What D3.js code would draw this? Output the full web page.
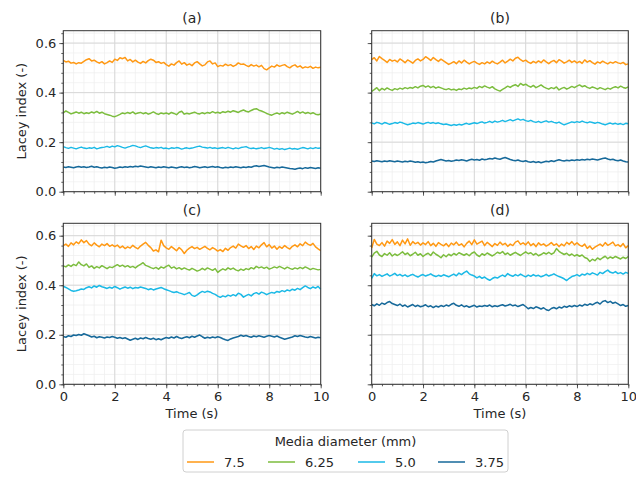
<!DOCTYPE html>
<html><head><meta charset="utf-8">
<script src="https://cdn.jsdelivr.net/npm/d3@7"></script>
<style>
body{margin:0;background:#fff;}
svg{font-family:"DejaVu Sans",sans-serif;}
</style></head><body>
<svg id="c" width="636" height="477"></svg>
<script>
const panelTitles = ["(a)","(b)","(c)","(d)"];
const seriesLabels = ["7.5","6.25","5.0","3.75"];
const seriesColors = ["#ff9914","#7cbd3e","#1ab9e6","#16699a"];
const xTicks = [0,2,4,6,8,10];
const yTicks = [0.0,0.2,0.4,0.6];
const times = d3.range(0,101).map(i=>i/10);

const a_75 = [0.530,0.524,0.527,0.519,0.522,0.516,0.521,0.519,0.526,0.533,0.537,0.528,0.531,0.524,0.519,0.525,0.516,0.521,0.528,0.522,0.535,0.530,0.541,0.537,0.542,0.528,0.534,0.524,0.531,0.523,0.518,0.526,0.520,0.529,0.535,0.531,0.522,0.525,0.518,0.522,0.513,0.507,0.516,0.511,0.521,0.528,0.515,0.521,0.511,0.516,0.509,0.520,0.525,0.516,0.508,0.512,0.524,0.528,0.516,0.520,0.505,0.510,0.507,0.515,0.509,0.513,0.506,0.511,0.520,0.514,0.516,0.510,0.505,0.513,0.507,0.511,0.504,0.510,0.497,0.492,0.500,0.507,0.503,0.512,0.506,0.510,0.513,0.505,0.500,0.508,0.512,0.503,0.508,0.499,0.504,0.501,0.506,0.498,0.503,0.500,0.502];
const a_625 = [0.318,0.326,0.320,0.314,0.318,0.322,0.317,0.321,0.315,0.319,0.316,0.322,0.318,0.324,0.317,0.321,0.315,0.312,0.309,0.305,0.303,0.307,0.312,0.318,0.315,0.320,0.316,0.322,0.314,0.318,0.320,0.315,0.319,0.313,0.317,0.322,0.316,0.312,0.318,0.315,0.318,0.313,0.320,0.316,0.311,0.321,0.325,0.313,0.317,0.314,0.318,0.321,0.316,0.314,0.319,0.315,0.320,0.317,0.323,0.318,0.321,0.317,0.323,0.320,0.325,0.321,0.327,0.324,0.320,0.326,0.330,0.325,0.322,0.328,0.333,0.335,0.329,0.326,0.321,0.316,0.312,0.309,0.314,0.318,0.313,0.319,0.315,0.321,0.317,0.313,0.318,0.324,0.317,0.322,0.316,0.320,0.315,0.319,0.313,0.311,0.314];
const a_50 = [0.182,0.178,0.175,0.179,0.176,0.173,0.177,0.180,0.176,0.174,0.177,0.175,0.179,0.173,0.176,0.178,0.180,0.183,0.179,0.184,0.181,0.186,0.183,0.179,0.176,0.180,0.183,0.187,0.185,0.181,0.178,0.182,0.185,0.181,0.177,0.175,0.178,0.176,0.179,0.174,0.176,0.173,0.177,0.175,0.178,0.176,0.172,0.175,0.177,0.174,0.176,0.179,0.182,0.184,0.180,0.178,0.176,0.179,0.175,0.177,0.174,0.176,0.178,0.175,0.179,0.176,0.173,0.177,0.174,0.178,0.180,0.182,0.177,0.174,0.176,0.173,0.175,0.178,0.174,0.176,0.179,0.176,0.172,0.175,0.171,0.174,0.170,0.173,0.176,0.172,0.174,0.171,0.175,0.178,0.176,0.173,0.177,0.174,0.178,0.175,0.176];
const a_375 = [0.100,0.098,0.101,0.099,0.097,0.100,0.102,0.099,0.101,0.098,0.100,0.103,0.099,0.101,0.098,0.096,0.099,0.097,0.100,0.098,0.095,0.097,0.100,0.098,0.101,0.099,0.102,0.100,0.103,0.101,0.104,0.102,0.100,0.098,0.101,0.099,0.097,0.100,0.098,0.101,0.099,0.097,0.100,0.098,0.096,0.099,0.101,0.098,0.100,0.097,0.099,0.102,0.100,0.097,0.099,0.101,0.098,0.100,0.102,0.099,0.101,0.098,0.096,0.099,0.097,0.100,0.098,0.101,0.099,0.097,0.100,0.098,0.101,0.099,0.103,0.105,0.102,0.104,0.106,0.103,0.100,0.098,0.096,0.099,0.097,0.100,0.098,0.096,0.094,0.093,0.091,0.094,0.096,0.093,0.097,0.095,0.098,0.096,0.094,0.097,0.095];

const b_75 = [0.533,0.541,0.528,0.546,0.537,0.530,0.522,0.534,0.527,0.531,0.524,0.536,0.529,0.521,0.532,0.526,0.519,0.530,0.536,0.528,0.534,0.545,0.538,0.530,0.542,0.533,0.526,0.535,0.528,0.521,0.514,0.519,0.525,0.517,0.528,0.520,0.531,0.523,0.516,0.522,0.526,0.519,0.514,0.521,0.516,0.524,0.518,0.527,0.520,0.516,0.523,0.531,0.520,0.527,0.535,0.528,0.539,0.543,0.533,0.526,0.531,0.523,0.518,0.526,0.520,0.528,0.521,0.532,0.524,0.517,0.525,0.530,0.521,0.533,0.527,0.519,0.524,0.531,0.522,0.528,0.520,0.526,0.518,0.532,0.523,0.529,0.521,0.515,0.524,0.519,0.527,0.521,0.516,0.523,0.519,0.525,0.520,0.517,0.522,0.513,0.516];
const b_625 = [0.405,0.412,0.420,0.408,0.417,0.411,0.419,0.413,0.409,0.416,0.412,0.418,0.414,0.420,0.416,0.421,0.418,0.424,0.419,0.426,0.429,0.422,0.427,0.420,0.425,0.418,0.423,0.419,0.415,0.412,0.416,0.411,0.414,0.409,0.415,0.412,0.418,0.414,0.419,0.416,0.421,0.417,0.425,0.420,0.427,0.422,0.418,0.424,0.415,0.410,0.406,0.413,0.419,0.426,0.421,0.428,0.432,0.425,0.437,0.430,0.434,0.427,0.422,0.429,0.420,0.425,0.431,0.423,0.418,0.414,0.420,0.416,0.423,0.411,0.417,0.421,0.414,0.419,0.425,0.420,0.426,0.431,0.424,0.428,0.421,0.417,0.423,0.419,0.414,0.420,0.416,0.412,0.418,0.414,0.420,0.424,0.419,0.426,0.421,0.418,0.423];
const b_50 = [0.278,0.274,0.280,0.277,0.273,0.279,0.276,0.272,0.275,0.279,0.276,0.281,0.278,0.274,0.270,0.273,0.277,0.275,0.279,0.276,0.273,0.277,0.280,0.276,0.279,0.275,0.278,0.274,0.271,0.273,0.270,0.267,0.271,0.268,0.272,0.269,0.273,0.276,0.272,0.275,0.278,0.275,0.279,0.282,0.277,0.280,0.284,0.279,0.285,0.281,0.284,0.288,0.283,0.287,0.291,0.286,0.290,0.294,0.289,0.292,0.287,0.284,0.288,0.283,0.280,0.284,0.279,0.283,0.286,0.281,0.284,0.280,0.277,0.281,0.275,0.270,0.274,0.278,0.282,0.279,0.283,0.280,0.285,0.281,0.278,0.282,0.279,0.276,0.280,0.277,0.273,0.270,0.274,0.277,0.273,0.276,0.272,0.275,0.271,0.276,0.274];
const b_375 = [0.124,0.122,0.125,0.123,0.121,0.124,0.122,0.125,0.123,0.121,0.124,0.122,0.120,0.123,0.121,0.124,0.122,0.119,0.121,0.118,0.120,0.117,0.119,0.122,0.120,0.124,0.127,0.130,0.127,0.124,0.126,0.123,0.125,0.128,0.126,0.129,0.127,0.124,0.128,0.131,0.128,0.130,0.127,0.132,0.129,0.131,0.134,0.132,0.136,0.133,0.131,0.135,0.138,0.134,0.130,0.127,0.125,0.128,0.124,0.122,0.125,0.121,0.119,0.122,0.118,0.121,0.117,0.120,0.123,0.121,0.125,0.122,0.126,0.129,0.126,0.124,0.127,0.125,0.128,0.126,0.129,0.127,0.130,0.128,0.131,0.129,0.132,0.130,0.128,0.131,0.134,0.136,0.132,0.129,0.131,0.127,0.125,0.128,0.124,0.121,0.120];

const c_75 = [0.560,0.566,0.557,0.571,0.563,0.575,0.568,0.583,0.572,0.580,0.566,0.559,0.571,0.562,0.555,0.566,0.560,0.568,0.557,0.563,0.556,0.562,0.551,0.558,0.548,0.555,0.550,0.561,0.553,0.547,0.558,0.566,0.573,0.561,0.552,0.538,0.543,0.535,0.582,0.560,0.551,0.545,0.556,0.548,0.539,0.552,0.543,0.528,0.541,0.550,0.556,0.548,0.553,0.545,0.551,0.557,0.549,0.543,0.552,0.546,0.538,0.544,0.536,0.549,0.541,0.552,0.558,0.550,0.566,0.559,0.553,0.560,0.548,0.556,0.544,0.558,0.551,0.563,0.572,0.555,0.564,0.550,0.558,0.545,0.556,0.549,0.560,0.552,0.546,0.557,0.563,0.555,0.567,0.560,0.574,0.566,0.561,0.569,0.555,0.547,0.540];
const c_625 = [0.478,0.474,0.482,0.476,0.484,0.479,0.494,0.483,0.478,0.486,0.472,0.478,0.468,0.475,0.470,0.479,0.473,0.467,0.474,0.471,0.477,0.483,0.476,0.481,0.474,0.479,0.472,0.476,0.470,0.478,0.484,0.491,0.480,0.476,0.471,0.467,0.472,0.465,0.474,0.469,0.476,0.481,0.469,0.474,0.466,0.471,0.464,0.470,0.465,0.461,0.468,0.463,0.457,0.461,0.468,0.462,0.470,0.465,0.460,0.467,0.452,0.460,0.466,0.461,0.470,0.464,0.469,0.462,0.458,0.465,0.460,0.467,0.463,0.471,0.466,0.476,0.470,0.474,0.468,0.473,0.465,0.469,0.474,0.470,0.476,0.471,0.466,0.473,0.468,0.464,0.470,0.466,0.472,0.467,0.474,0.469,0.463,0.468,0.465,0.462,0.464];
const c_50 = [0.396,0.391,0.385,0.379,0.376,0.378,0.381,0.385,0.383,0.390,0.394,0.389,0.397,0.392,0.399,0.394,0.391,0.387,0.392,0.388,0.395,0.390,0.384,0.389,0.393,0.388,0.392,0.386,0.391,0.389,0.393,0.390,0.387,0.382,0.386,0.381,0.385,0.388,0.391,0.386,0.382,0.378,0.374,0.371,0.374,0.369,0.366,0.362,0.366,0.371,0.359,0.355,0.361,0.369,0.375,0.371,0.376,0.373,0.367,0.363,0.356,0.351,0.357,0.353,0.360,0.356,0.362,0.357,0.368,0.363,0.352,0.358,0.363,0.357,0.366,0.370,0.364,0.372,0.368,0.362,0.367,0.371,0.368,0.375,0.372,0.378,0.374,0.381,0.377,0.384,0.380,0.387,0.382,0.390,0.397,0.391,0.386,0.393,0.388,0.395,0.384];
const c_375 = [0.193,0.190,0.196,0.193,0.199,0.197,0.201,0.198,0.204,0.200,0.196,0.191,0.194,0.188,0.192,0.190,0.187,0.191,0.189,0.193,0.190,0.186,0.189,0.185,0.188,0.183,0.178,0.182,0.186,0.181,0.187,0.184,0.189,0.185,0.182,0.186,0.180,0.184,0.180,0.185,0.189,0.186,0.191,0.187,0.193,0.188,0.185,0.189,0.192,0.188,0.194,0.190,0.195,0.199,0.192,0.186,0.190,0.187,0.191,0.188,0.192,0.189,0.184,0.180,0.177,0.183,0.187,0.190,0.193,0.198,0.194,0.197,0.193,0.190,0.195,0.192,0.196,0.193,0.190,0.194,0.197,0.194,0.191,0.195,0.190,0.186,0.182,0.185,0.188,0.191,0.196,0.193,0.197,0.194,0.191,0.189,0.193,0.190,0.187,0.190,0.188];

const d_75 = [0.550,0.585,0.566,0.560,0.572,0.558,0.578,0.569,0.584,0.565,0.575,0.560,0.582,0.567,0.587,0.561,0.576,0.567,0.573,0.562,0.571,0.564,0.576,0.560,0.569,0.557,0.572,0.565,0.559,0.568,0.556,0.570,0.563,0.574,0.561,0.567,0.555,0.569,0.578,0.564,0.583,0.566,0.572,0.578,0.560,0.573,0.565,0.556,0.568,0.561,0.574,0.563,0.569,0.557,0.566,0.560,0.574,0.579,0.565,0.571,0.563,0.575,0.560,0.568,0.556,0.571,0.562,0.567,0.558,0.564,0.572,0.561,0.567,0.556,0.566,0.559,0.573,0.565,0.576,0.563,0.571,0.562,0.557,0.566,0.549,0.558,0.545,0.554,0.560,0.566,0.558,0.572,0.561,0.567,0.574,0.559,0.564,0.556,0.568,0.551,0.560];
const d_625 = [0.513,0.530,0.537,0.522,0.516,0.528,0.521,0.531,0.518,0.526,0.520,0.527,0.535,0.524,0.530,0.519,0.525,0.533,0.521,0.527,0.516,0.524,0.529,0.520,0.534,0.525,0.519,0.511,0.523,0.515,0.525,0.519,0.528,0.522,0.531,0.526,0.521,0.527,0.519,0.529,0.534,0.522,0.516,0.527,0.521,0.530,0.524,0.518,0.525,0.533,0.528,0.536,0.524,0.530,0.521,0.527,0.533,0.526,0.520,0.528,0.535,0.527,0.531,0.522,0.528,0.519,0.524,0.531,0.526,0.533,0.525,0.531,0.548,0.537,0.530,0.524,0.529,0.520,0.526,0.518,0.523,0.517,0.522,0.512,0.508,0.496,0.505,0.499,0.510,0.503,0.511,0.517,0.507,0.514,0.509,0.516,0.511,0.506,0.513,0.508,0.516];
const d_50 = [0.428,0.447,0.438,0.443,0.436,0.441,0.446,0.437,0.442,0.448,0.439,0.444,0.437,0.442,0.435,0.440,0.444,0.438,0.433,0.439,0.443,0.437,0.441,0.446,0.439,0.435,0.440,0.436,0.442,0.438,0.434,0.440,0.445,0.438,0.449,0.443,0.451,0.457,0.446,0.441,0.437,0.430,0.436,0.428,0.433,0.425,0.420,0.427,0.432,0.429,0.436,0.441,0.435,0.447,0.440,0.436,0.443,0.438,0.445,0.439,0.434,0.441,0.436,0.443,0.437,0.440,0.434,0.438,0.444,0.437,0.441,0.446,0.440,0.435,0.431,0.426,0.419,0.428,0.435,0.438,0.443,0.437,0.445,0.441,0.448,0.443,0.450,0.446,0.441,0.452,0.447,0.455,0.461,0.452,0.449,0.455,0.447,0.451,0.445,0.452,0.448];
const d_375 = [0.322,0.317,0.325,0.319,0.328,0.323,0.330,0.334,0.326,0.322,0.318,0.324,0.315,0.320,0.312,0.317,0.322,0.314,0.319,0.313,0.316,0.321,0.313,0.317,0.310,0.316,0.312,0.318,0.314,0.320,0.316,0.323,0.327,0.319,0.315,0.321,0.313,0.317,0.311,0.315,0.319,0.312,0.316,0.314,0.318,0.315,0.320,0.313,0.317,0.314,0.318,0.321,0.316,0.319,0.323,0.317,0.320,0.314,0.318,0.322,0.314,0.305,0.310,0.306,0.313,0.309,0.304,0.309,0.301,0.298,0.306,0.310,0.305,0.312,0.308,0.315,0.311,0.317,0.313,0.318,0.314,0.320,0.316,0.323,0.319,0.325,0.321,0.327,0.331,0.324,0.334,0.338,0.330,0.335,0.327,0.331,0.325,0.318,0.322,0.315,0.318];

const panelSeries = [
  [a_75,a_625,a_50,a_375],
  [b_75,b_625,b_50,b_375],
  [c_75,c_625,c_50,c_375],
  [d_75,d_625,d_50,d_375]
];

const svg = d3.select("#c");
const layout = [
  {x0:63.3,x1:320.7,y0:30.7,y1:191.7,showY:true,showX:false},
  {x0:371.7,x1:628.3,y0:30.7,y1:191.7,showY:false,showX:false},
  {x0:63.3,x1:320.7,y0:223.3,y1:384.3,showY:true,showX:true},
  {x0:371.7,x1:628.3,y0:223.3,y1:384.3,showY:false,showX:true}
];
const textCol = "#262626";

layout.forEach((L,pi)=>{
  const x = d3.scaleLinear().domain([0,10]).range([L.x0,L.x1]);
  const y = d3.scaleLinear().domain([0,0.65]).range([L.y1,L.y0]);
  const g = svg.append("g");
  const minorX = d3.range(0,10.001,0.4);
  const minorY = d3.range(0,0.6501,0.04);
  // minor grid
  g.selectAll(".mgx").data(minorX).join("line")
    .attr("x1",d=>x(d)).attr("x2",d=>x(d)).attr("y1",L.y0).attr("y2",L.y1)
    .attr("stroke","#eeeeee").attr("stroke-width",0.7);
  g.selectAll(".mgy").data(minorY).join("line")
    .attr("x1",L.x0).attr("x2",L.x1).attr("y1",d=>y(d)).attr("y2",d=>y(d))
    .attr("stroke","#eeeeee").attr("stroke-width",0.7);
  // major grid
  g.selectAll(".Mgx").data(xTicks).join("line")
    .attr("x1",d=>x(d)).attr("x2",d=>x(d)).attr("y1",L.y0).attr("y2",L.y1)
    .attr("stroke","#d8d8d8").attr("stroke-width",1);
  g.selectAll(".Mgy").data(yTicks).join("line")
    .attr("x1",L.x0).attr("x2",L.x1).attr("y1",d=>y(d)).attr("y2",d=>y(d))
    .attr("stroke","#d8d8d8").attr("stroke-width",1);
  // lines
  const line = d3.line().x((d,i)=>x(times[i])).y(d=>y(d));
  panelSeries[pi].forEach((s,si)=>{
    g.append("path").datum(s).attr("d",line).attr("fill","none")
      .attr("stroke",seriesColors[si]).attr("stroke-width",1.5).attr("stroke-linejoin","round");
  });
  // frame
  g.append("rect").attr("x",L.x0).attr("y",L.y0).attr("width",L.x1-L.x0).attr("height",L.y1-L.y0)
    .attr("fill","none").attr("stroke","#333").attr("stroke-width",1);
  // axes
  const xa = d3.axisBottom(x).tickValues(xTicks).tickSize(4).tickPadding(3)
    .tickFormat(L.showX? d3.format("d") : ()=>"");
  const xag = g.append("g").attr("transform",`translate(0,${L.y1})`).call(xa);
  const xm = d3.axisBottom(x).tickValues(minorX).tickSize(2).tickFormat(()=>"");
  const xmg = g.append("g").attr("transform",`translate(0,${L.y1})`).call(xm);
  const ya = d3.axisLeft(y).tickValues(yTicks).tickSize(4).tickPadding(3)
    .tickFormat(L.showY? d3.format(".1f") : ()=>"");
  const yag = g.append("g").attr("transform",`translate(${L.x0},0)`).call(ya);
  const ym = d3.axisLeft(y).tickValues(minorY).tickSize(2).tickFormat(()=>"");
  const ymg = g.append("g").attr("transform",`translate(${L.x0},0)`).call(ym);
  [xag,xmg,yag,ymg].forEach(a=>{
    a.select(".domain").remove();
    a.selectAll("line").attr("stroke","#333").attr("stroke-width",0.8);
    a.selectAll("text").attr("fill",textCol).attr("font-size",13).attr("font-family","DejaVu Sans");
  });
  // title
  g.append("text").attr("x",(L.x0+L.x1)/2).attr("y",L.y0-8).attr("text-anchor","middle")
    .attr("font-size",14).attr("fill",textCol).text(panelTitles[pi]);
  if(L.showY){
    g.append("text").attr("transform",`translate(26,${(L.y0+L.y1)/2}) rotate(-90)`)
      .attr("text-anchor","middle").attr("font-size",13).attr("fill",textCol).text("Lacey index (-)");
  }
  if(L.showX){
    g.append("text").attr("x",(L.x0+L.x1)/2).attr("y",L.y1+34).attr("text-anchor","middle")
      .attr("font-size",13).attr("fill",textCol).text("Time (s)");
  }
});

// legend
const lg = svg.append("g");
lg.append("rect").attr("x",183).attr("y",430).attr("width",325).attr("height",42).attr("rx",3)
  .attr("fill","#fff").attr("stroke","#d0d0d0").attr("stroke-width",1);
lg.append("text").attr("x",345.5).attr("y",446).attr("text-anchor","middle").attr("font-size",13)
  .attr("fill",textCol).text("Media diameter (mm)");
const legX = [187,268,358,438];
seriesLabels.forEach((lab,i)=>{
  lg.append("line").attr("x1",legX[i]).attr("x2",legX[i]+27).attr("y1",462).attr("y2",462)
    .attr("stroke",seriesColors[i]).attr("stroke-width",1.5);
  lg.append("text").attr("x",legX[i]+37).attr("y",467).attr("font-size",13).attr("fill",textCol).text(lab);
});
</script>
</body></html>
